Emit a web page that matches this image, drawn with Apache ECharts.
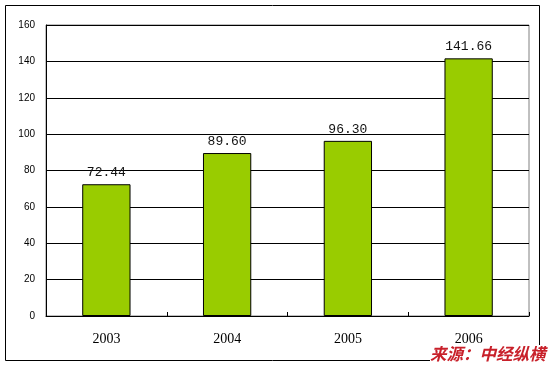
<!DOCTYPE html>
<html>
<head>
<meta charset="utf-8">
<script src="https://cdn.jsdelivr.net/npm/echarts@6/dist/echarts.min.js"></script>
<style>html,body{margin:0;padding:0;background:#fff;}#c{width:553px;height:367px;}</style>
</head>
<body>
<div id="c"></div>
<script>
var categories = ['2003', '2004', '2005', '2006'];
var values = [72.44, 89.60, 96.30, 141.66];
var yTicks = [0, 20, 40, 60, 80, 100, 120, 140, 160];
var sourceText = '来源：中经纵横';

var chart = echarts.init(document.getElementById('c'), null, {renderer: 'canvas'});
chart.setOption({
  animation: false,
  backgroundColor: '#fff',
  grid: {left: 46, right: 24, top: 25, bottom: 51, show: true, borderColor: '#808080', borderWidth: 1, backgroundColor: 'transparent'},
  xAxis: {
    type: 'category',
    data: categories,
    axisLine: {show: true, lineStyle: {color: '#000', width: 1}},
    axisTick: {show: true, inside: true, length: 4, lineStyle: {color: '#000'}},
    axisLabel: {color: '#000', fontFamily: 'Liberation Serif', fontSize: 14, margin: 16}
  },
  yAxis: {
    type: 'value',
    min: yTicks[0],
    max: yTicks[yTicks.length - 1],
    interval: 20,
    axisLine: {show: true, lineStyle: {color: '#000', width: 1}},
    axisTick: {show: false},
    splitLine: {show: true, lineStyle: {color: '#000', width: 1}},
    axisLabel: {color: '#000', fontFamily: 'Liberation Sans', fontSize: 10, margin: 11}
  },
  series: [{
    type: 'bar',
    data: values,
    barWidth: '40%',
    itemStyle: {color: '#99CC00', borderColor: '#000', borderWidth: 1},
    label: {
      show: true,
      position: 'top',
      distance: 5,
      color: '#111',
      fontFamily: 'Liberation Mono',
      fontSize: 13,
      formatter: function (p) { return p.value.toFixed(2); }
    }
  }],
  graphic: [
    {type: 'rect', shape: {x: 5.5, y: 5.5, width: 534, height: 355}, style: {fill: 'none', stroke: '#000', lineWidth: 1}, z: -1},
    {type: 'text', left: 430, top: 345, style: {text: sourceText, fill: '#C8202A', font: 'italic bold 16.5px "Noto Sans CJK SC"', backgroundColor: '#fff'}, z: 10}
  ]
});
</script>
</body>
</html>
